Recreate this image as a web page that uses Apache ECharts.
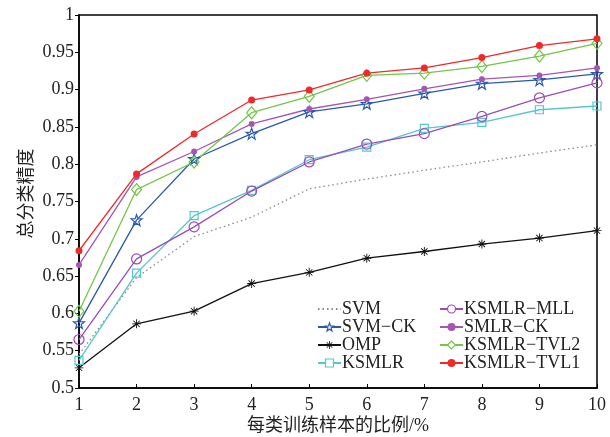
<!DOCTYPE html>
<html><head><meta charset="utf-8">
<script src="https://cdn.jsdelivr.net/npm/echarts@6/dist/echarts.min.js"></script>
<style>html,body{margin:0;padding:0;background:#fff}#c{width:610px;height:437px}</style>
</head><body><div id="c"></div>
<script>
var xValues = [1, 2, 3, 4, 5, 6, 7, 8, 9, 10];
var seriesNames = ['SVM', 'SVM−CK', 'OMP', 'KSMLR', 'KSMLR−MLL', 'SMLR−CK', 'KSMLR−TVL2', 'KSMLR−TVL1'];
var svm       = [0.545, 0.648, 0.703, 0.729, 0.767, 0.780, 0.792, 0.803, 0.815, 0.826];
var svmCk     = [0.587, 0.725, 0.807, 0.841, 0.870, 0.881, 0.895, 0.908, 0.913, 0.921];
var omp       = [0.527, 0.586, 0.603, 0.640, 0.655, 0.674, 0.683, 0.693, 0.701, 0.711];
var ksmlr     = [0.537, 0.654, 0.731, 0.765, 0.806, 0.823, 0.848, 0.856, 0.873, 0.878];
var ksmlrMll  = [0.565, 0.673, 0.716, 0.764, 0.803, 0.827, 0.841, 0.864, 0.889, 0.909];
var smlrCk    = [0.665, 0.783, 0.817, 0.854, 0.874, 0.887, 0.901, 0.914, 0.919, 0.929];
var ksmlrTvl2 = [0.603, 0.766, 0.803, 0.869, 0.891, 0.919, 0.922, 0.931, 0.945, 0.962];
var ksmlrTvl1 = [0.684, 0.787, 0.8405, 0.886, 0.8995, 0.922, 0.929, 0.943, 0.959, 0.968];
var xAxisName = '每类训练样本的比例/%';
var yAxisName = '总分类精度';

var FONT = '"Liberation Serif", "Times New Roman", "Noto Sans CJK SC", serif';
var STAR = 'path://M0,-10 L2.35,-3.24 L9.51,-3.09 L3.8,1.24 L5.88,8.09 L0,4 L-5.88,8.09 L-3.8,1.24 L-9.51,-3.09 L-2.35,-3.24 Z';
var AST = 'path://M-1,-10 L1,-10 L1,10 L-1,10 Z M-10,-1 L10,-1 L10,1 L-10,1 Z M-6.3,-7.7 L7.7,6.3 L6.3,7.7 L-7.7,-6.3 Z M6.3,-7.7 L7.7,-6.3 L-6.3,7.7 L-7.7,6.3 Z';

var colors = ['#8a8a8a', '#2a5aae', '#111111', '#56c6cf', '#9b4db4', '#a556b3', '#74c54a', '#ee2a2a'];
var hollowFlags = [false, true, false, true, true, false, true, false];

function pairs(vals) { return xValues.map(function (x, i) { return [x, vals[i]]; }); }

function mk(idx, vals, symbol, size, lineType) {
  var color = colors[idx], hollow = hollowFlags[idx];
  return {
    name: seriesNames[idx], type: 'line', data: pairs(vals),
    symbol: symbol, symbolSize: size, showSymbol: symbol !== 'none',
    lineStyle: { color: color, width: 1.3, type: lineType || 'solid' },
    itemStyle: hollow ? { color: 'rgba(255,255,255,0)', borderColor: color, borderWidth: 1.2 }
                      : { color: color, borderWidth: 0 },
    emphasis: { disabled: true },
    animation: false
  };
}

var series = [
  mk(0, svm, 'none', 0, [1.5, 3]),
  mk(1, svmCk, STAR, 11),
  mk(2, omp, AST, 9),
  mk(3, ksmlr, 'rect', 8),
  mk(4, ksmlrMll, 'circle', 10),
  mk(5, smlrCk, 'circle', 6),
  mk(6, ksmlrTvl2, 'diamond', [10, 12]),
  mk(7, ksmlrTvl1, 'circle', 7)
];

function legendItem(n, i) {
  if (i === 0) return { name: n, itemStyle: { color: 'rgba(0,0,0,0)', borderWidth: 0 } };
  if (hollowFlags[i]) return { name: n, itemStyle: { color: '#ffffff', borderColor: colors[i], borderWidth: 1.2 } };
  return { name: n, itemStyle: { color: colors[i], borderWidth: 0 } };
}
var legendItems = seriesNames.map(legendItem);

var legendBase = {
  orient: 'vertical', itemWidth: 23, itemHeight: 10, itemGap: 0,
  textStyle: { fontFamily: FONT, fontSize: 18, color: '#222', lineHeight: 17, padding: [0, 0, 0, -4] },
  padding: 0, selectedMode: false
};

var chart = echarts.init(document.getElementById('c'), null, { renderer: 'canvas' });
chart.setOption({
  backgroundColor: '#fff',
  animation: false,
  grid: { left: 79, right: 13, top: 15, bottom: 49, containLabel: false, outerBoundsMode: 'none',
          show: true, borderColor: '#000', borderWidth: 1.5, backgroundColor: 'transparent' },
  legend: [
    Object.assign({}, legendBase, { left: 317, top: 300, data: legendItems.slice(0, 4) }),
    Object.assign({}, legendBase, { left: 439, top: 300, data: legendItems.slice(4) })
  ],
  xAxis: {
    type: 'value', min: 1, max: 10, interval: 1,
    name: xAxisName, nameLocation: 'middle', nameGap: 29, nameMoveOverlap: false,
    nameTextStyle: { fontFamily: FONT, fontSize: 18, color: '#222' },
    axisLine: { show: true, lineStyle: { color: '#000', width: 1.5 } },
    axisTick: { show: true, inside: true, length: 4, lineStyle: { color: '#000', width: 1 } },
    axisLabel: { fontFamily: FONT, fontSize: 18, color: '#222', margin: 8 },
    splitLine: { show: false }
  },
  yAxis: {
    type: 'value', min: 0.5, max: 1, interval: 0.05,
    name: yAxisName, nameLocation: 'middle', nameGap: 43, nameRotate: 90, nameMoveOverlap: false,
    nameTextStyle: { fontFamily: FONT, fontSize: 18, color: '#222', padding: [0, 0, 0, 16] },
    axisLine: { show: true, lineStyle: { color: '#000', width: 1.5 } },
    axisTick: { show: true, inside: false, length: 4, lineStyle: { color: '#000', width: 1 } },
    axisLabel: { fontFamily: FONT, fontSize: 18, color: '#222', margin: 5,
      formatter: function (v) { return String(Math.round(v * 100) / 100); } },
    splitLine: { show: false }
  },
  series: series
});
</script></body></html>
